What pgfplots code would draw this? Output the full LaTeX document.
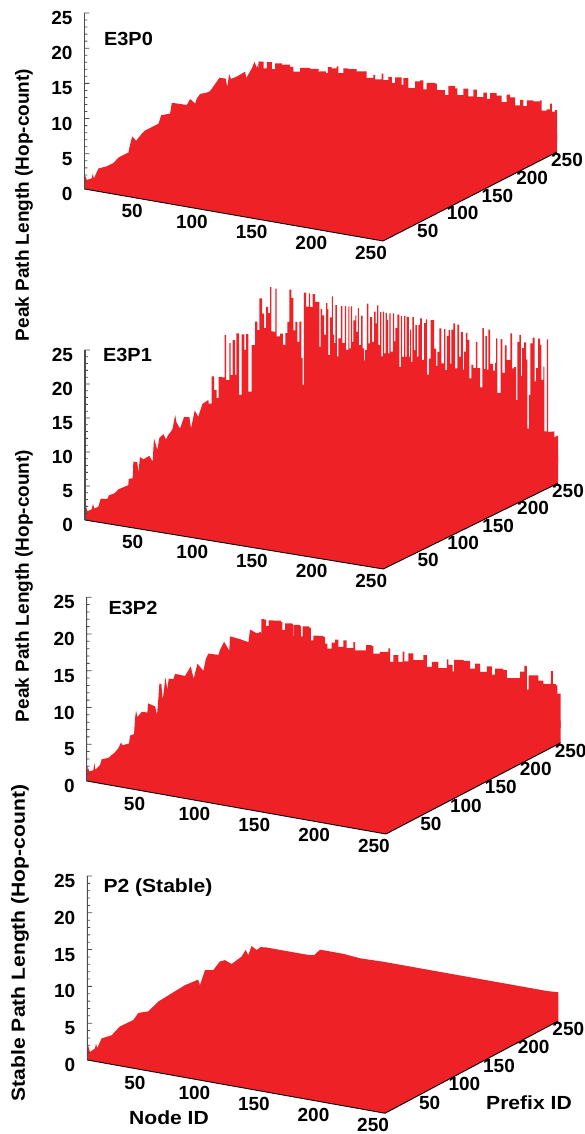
\documentclass[border=0pt]{standalone}
\usepackage{fontspec}
\setmainfont{Liberation Sans}
\usepackage{pgfplots}
\usepackage{pgfplotstable}
\pgfplotsset{compat=1.18}
\definecolor{barred}{HTML}{EE2226}
\newcommand{\lab}{\fontsize{19}{21}\selectfont\bfseries}
\pgfplotstableread[row sep=\\]{n p h\\
0 0 0\\ 0 0.5 2.0\\ 0 3.4 1.1\\ 0 10.5 1.0\\ 0 12 1.6\\ 0 13.4 0.8\\ 0 20 1.9\\ 0 32 1.6\\ 0 41.7 1.6\\ 0 48.9 2.0\\ 0 63.2 2.0\\ 0 64.7 2.7\\ 0 68.5 4.0\\ 0 74.2 3.1\\ 0 82.4 3.7\\ 0 87.2 3.9\\ 0 106.3 3.9\\ 0 110.2 4.9\\ 0 123 4.5\\ 0 125.5 5.9\\ 0 147 4.5\\ 0 151.8 5.1\\ 0 159 4.1\\ 0 161.4 4.7\\ 0 166.2 5.1\\ 0 175.8 4.8\\ 0 180.6 4.8\\ 0 194 6.0\\ 0 203 5.4\\ 0 205 4.1\\ 0 207.9 5.8\\ 0 210.3 5.0\\ 0 218.9 4.9\\ 0 230.9 5.0\\ 0 232.3 4.0\\ 0 240.5 5.0\\ 0 244.3 5.7\\ 0 247.6 4.7\\ 0 250 5.2\\
0 250 2.5\\ 250 250 2.5\\ 250 250 0\\ 250 0 0\\ 0 0 0\\
}\tblA
\pgfplotstableread[row sep=\\]{n p h\\
0 247.6 4.7\\ 0 250 5.5\\ 1.4 250 5.5\\ 4.2 250 4.6\\ 7 250 5.6\\ 11.2 250 4.7\\ 14 250 5.6\\ 19.6 250 5.6\\ 26.5 250 5.5\\ 29.3 250 4.9\\ 34.9 250 5.6\\ 43.3 250 5.7\\ 50.3 250 5.5\\ 51.5 250 5.6\\ 56.5 250 5.5\\ 58.2 250 6.4\\ 61.3 250 6.3\\ 65.5 250 6.7\\ 66.9 250 5.8\\ 71 250 6.6\\ 75.2 250 6.6\\ 82.2 250 6.5\\ 89.2 250 6.7\\ 90.6 250 5.8\\ 96.2 250 6.4\\ 97.6 250 5.8\\ 103.2 250 6.8\\ 104.6 250 5.9\\ 108.8 250 6.5\\ 111.6 250 5.7\\ 114.4 250 6.6\\ 119.9 250 5.7\\ 121.3 250 6.7\\ 125.5 250 5.4\\ 131.1 250 6.5\\ 135.3 250 6.8\\ 138.1 250 5.6\\ 140.9 250 6.6\\ 147.9 250 6.7\\ 149.3 250 5.8\\ 156.2 250 5.3\\ 159 250 6.7\\ 164.6 250 6.5\\ 166.6 250 5.6\\ 171.6 250 6.7\\ 175.8 250 5.7\\ 180 250 6.8\\ 182.8 250 5.8\\ 188.4 250 6.6\\ 191.2 250 5.8\\ 194 250 6.7\\ 199.5 250 6.5\\ 203.7 250 5.7\\ 207.9 250 6.9\\ 210.7 250 6.6\\ 214.9 250 5.6\\ 219.1 250 6.5\\ 221.9 250 5.7\\ 224.7 250 6.6\\ 230.3 250 6.6\\ 235.8 250 6.9\\ 237.2 250 5.5\\ 241.4 250 5.8\\ 244.2 250 6.7\\ 245.6 250 5.6\\ 248.4 250 5.9\\ 250 250 5.0\\
250 250 1.5\\ 0 250 1.5\\ 0 247.6 1.5\\
}\tblAr
\pgfplotstableread[row sep=\\]{n p h\\
0 0 0\\ 0 0.5 2.0\\ 0 1.4 2.0\\ 0 3.3 1.1\\ 0 9.5 1.1\\ 0 11.4 1.8\\ 0 13.4 1.0\\ 0 19.1 1.0\\ 0 22.4 2.0\\ 0 32 1.5\\ 0 34.3 1.9\\ 0 42.9 1.8\\ 0 47.7 2.1\\ 0 62 2.0\\ 0 62.5 2.9\\ 0 68.2 2.7\\ 0 69.2 5.1\\ 0 74.9 4.7\\ 0 76.3 3.1\\ 0 78.7 5.3\\ 0 83.5 4.7\\ 0 92 4.8\\ 0 96.8 3.7\\ 0 98.7 7.0\\ 0 103.5 5.1\\ 0 106.4 6.7\\ 0 112 7.0\\ 0 115.9 6.0\\ 0 119 6.5\\ 0 125 7.0\\ 0 129 8.9\\ 0 131 7.7\\ 0 136 6.6\\ 0 141.7 8.0\\ 0 149.3 7.6\\ 0 151.7 5.8\\ 0 157 8.2\\ 0 162 7.0\\ 0 168 8.6\\ 0 176.5 8.75\\
0 178 7\\ 0 250 4\\ 250 250 4\\ 250 250 0\\ 250 0 0\\ 0 0 0\\
}\tblB
\pgfplotstableread[row sep=\\]{n p h\\
0 175 8.3\\ 0 181 12.0\\ 0 184.6 9.8\\ 0 188.4 8.4\\ 0 191.3 11.4\\ 0 196 11.1\\ 0 199.9 17.1\\ 0 201.8 10.4\\ 0 206.5 15.6\\ 0 208.4 10.8\\ 0 211.3 15.8\\ 0 214.7 10.5\\ 0 216.6 16.5\\ 0 220.4 7.3\\ 0 224.2 16.0\\ 0 228 13.5\\ 0 230.4 15.7\\ 0 233.7 7.1\\ 0 238.5 13.7\\ 0 243.3 16.9\\ 0 246.6 15.5\\ 0 249.5 20.0\\
0.8 250 20.0\\ 2 250 17.8\\ 3.6 250 15.7\\ 5.3 250 18.9\\ 7 250 18.0\\ 8.7 250 21.9\\ 9.8 250 15.4\\ 11.5 250 15.4\\ 13.1 250 21.8\\ 14.2 250 14.8\\ 17 250 15.3\\ 19.3 250 13.7\\ 21.5 250 15.5\\ 23.2 250 17.2\\ 24.9 250 22.0\\ 26.5 250 20.8\\ 28.2 250 16.1\\ 29.9 250 17.4\\ 31.6 250 14.5\\ 33.2 250 17.5\\ 34.9 250 12.2\\ 36 250 8.3\\ 36.9 250 21.9\\ 38.8 250 19.9\\ 41.1 250 21.9\\
42.2 250 19.9\\ 44.4 250 21.9\\ 46.4 250 20.8\\ 49.2 250 20.9\\ 50 250 14.3\\ 51.1 250 19.9\\ 52.3 250 19.0\\ 53.9 250 16.2\\ 55.6 250 20.9\\ 56.7 250 20.0\\ 57.6 250 13.3\\ 59 250 18.9\\ 60.4 250 22.0\\ 61.2 250 16.4\\ 62.3 250 15.2\\ 63.4 250 20.8\\ 64.6 250 13.3\\ 66 250 16.0\\ 67.9 250 20.8\\ 69.3 250 15.4\\ 71.3 250 20.9\\ 72.4 250 14.5\\ 74.3 250 20.9\\ 75.2 250 14.8\\ 76.3 250 21.0\\ 77.4 250 15.8\\ 78.5 250 19.0\\ 80.2 250 19.8\\ 81 250 17.4\\ 82.2 250 20.9\\ 83 250 15.5\\ 85 250 19.9\\ 86.3 250 15.1\\ 87.5 250 13.4\\ 88.3 250 14.9\\ 89.7 250 21.8\\ 91.1 250 16.0\\ 92.5 250 19.9\\ 94.2 250 16.3\\ 95.8 250 20.8\\ 97.2 250 19.1\\ 98.4 250 21.8\\ 99.5 250 16.0\\ 100.9 250 20.9\\ 102 250 14.4\\ 103.1 250 21.0\\ 104.2 250 14.9\\ 105.6 250 20.9\\ 106.5 250 19.9\\ 107.6 250 15.0\\ 108.7 250 20.9\\ 109.8 250 15.3\\ 111.5 250 21.0\\ 112.6 250 16.9\\ 113.7 250 18.9\\ 115.4 250 20.9\\ 117.1 250 13.3\\ 118.2 250 20.8\\ 119.3 250 14.8\\ 121 250 20.9\\ 122.1 250 14.9\\ 123.2 250 20.8\\ 124.9 250 15.0\\ 126 250 19.0\\ 126.9 250 14.3\\ 128 250 20.9\\ 129.1 250 16.1\\ 130.5 250 19.8\\ 131.6 250 15.2\\ 133 250 19.9\\ 134.4 250 20.9\\ 135.8 250 14.8\\ 137.8 250 20.3\\ 139.2 250 20.9\\ 140.3 250 12.8\\ 141.7 250 15.2\\ 143.3 250 20.9\\ 145 250 21.0\\ 146.1 250 16.8\\ 147.8 250 14.3\\ 148.9 250 16.4\\ 150.6 250 19.9\\ 152.3 250 14.8\\ 154.5 250 19.9\\ 155.6 250 13.9\\ 156.8 250 19.0\\ 158.4 250 19.9\\ 159.5 250 15.0\\ 160.7 250 20.0\\ 162.3 250 21.0\\ 163.7 250 14.4\\ 165.7 250 20.9\\ 167.1 250 16.2\\ 168.5 250 19.9\\ 170.2 250 14.4\\ 171.3 250 17.1\\ 172.7 250 19.9\\ 174.1 250 18.9\\ 175.8 250 13.3\\ 177.4 250 15.3\\ 179.1 250 14.9\\ 181.1 250 18.8\\ 182.5 250 15.0\\ 184.7 250 12.2\\ 186.6 250 21.0\\ 187.8 250 15.0\\ 189.2 250 19.9\\ 190.3 250 15.0\\ 191.7 250 20.9\\ 193.1 250 15.9\\ 195.3 250 15.0\\ 197.3 250 16.2\\ 198.1 250 19.8\\ 199.2 250 11.8\\ 202 250 19.8\\ 203.4 250 14.9\\ 205.4 250 19.0\\ 207 250 16.9\\ 208.7 250 16.9\\ 210.1 250 20.9\\ 211.5 250 15.8\\ 213.2 250 16.0\\ 214.9 250 11.2\\ 216 250 19.8\\ 217.7 250 20.9\\ 218.8 250 14.9\\ 219.9 250 19.0\\ 221.6 250 19.9\\ 223.3 250 17.4\\ 224.4 250 7.3\\ 225.5 250 12.3\\ 226.9 250 19.9\\ 228.8 250 20.8\\ 230.5 250 14.4\\ 231.6 250 16.4\\ 233.3 250 20.8\\ 235 250 19.9\\ 236.1 250 14.8\\ 237.8 250 16.8\\ 238.6 250 7.3\\ 240.6 250 20.9\\ 241.7 250 7.3\\ 243.9 250 7.4\\ 246.2 250 7.5\\ 247 250 6.7\\ 248.1 250 6.9\\ 250 250 6.9\\
250 250 3\\ 0 250 3\\ 0 175 6.5\\
}\tblBr
\pgfplotstableread[row sep=\\]{n p h\\
0 0 0\\ 0 1 2.0\\ 0 3.8 1.1\\ 0 9.5 1.0\\ 0 11 1.9\\ 0 12.4 0.9\\ 0 19 1.2\\ 0 21.5 1.9\\ 0 31 1.6\\ 0 40.5 1.9\\ 0 45.3 2.2\\ 0 49 2.8\\ 0 51.5 2.3\\ 0 60.6 2.1\\ 0 62 3.1\\ 0 67.7 3.0\\ 0 69.2 5.1\\ 0 70.6 6.1\\ 0 72.5 5.1\\ 0 78.7 5.5\\ 0 86.8 5.0\\ 0 87.8 6.2\\ 0 97.8 5.3\\ 0 100.6 4.0\\ 0 102.6 6.2\\ 0 104 8.1\\ 0 106.8 7.9\\ 0 108.8 5.6\\ 0 112.6 8.5\\ 0 115.4 6.7\\ 0 117.3 8.1\\ 0 124 7.7\\ 0 126.4 8.3\\ 0 140.7 7.3\\ 0 148.8 8.2\\ 0 153 6.3\\ 0 158.4 8.1\\ 0 167 6.7\\ 0 170.3 8.1\\ 0 174 8.7\\ 0 188.4 7.8\\ 0 190.8 8.4\\ 0 196.5 9.2\\ 0 204 7.6\\ 0 205 9.5\\ 0 219.4 8.4\\ 0 231.3 7.4\\ 0 233.7 9.0\\ 0 243.3 8.0\\ 0 250 7.9\\
0 250 3\\ 250 250 3\\ 250 250 0\\ 250 0 0\\ 0 0 0\\
}\tblC
\pgfplotstableread[row sep=\\]{n p h\\
0 245 7.9\\ 0 250 9.6\\ 2.2 250 9.6\\ 3.9 250 8.8\\ 5.9 250 9.6\\ 10 250 9.7\\ 16.2 250 9.7\\ 17.5 250 8.6\\ 19.8 250 9.6\\ 25.4 250 9.7\\ 26.2 250 8.1\\ 26.7 250 9.6\\ 32.3 250 9.6\\ 32.9 250 8.2\\ 34.3 250 9.6\\ 39.8 250 9.6\\ 41.2 250 7.9\\ 43.4 250 8.6\\ 47.6 250 8.7\\ 51.7 250 8.7\\ 53.1 250 7.8\\ 55.1 250 7.2\\ 58.7 250 8.1\\ 61.5 250 8.6\\ 64.3 250 7.7\\ 68.5 250 8.7\\ 71.2 250 7.7\\ 76.8 250 8.7\\ 78.2 250 7.6\\ 85.2 250 7.8\\ 87.4 250 8.6\\ 92.1 250 8.6\\ 93.5 250 7.6\\ 99 250 8.0\\ 106 250 8.7\\ 107.5 250 6.9\\ 110.3 250 7.9\\ 114.4 250 7.1\\ 118 250 8.6\\ 119.4 250 7.3\\ 122.8 250 8.5\\ 127 250 7.7\\ 135.3 250 8.6\\ 138.1 250 7.1\\ 142.3 250 7.9\\ 147.9 250 7.2\\ 154.8 250 8.6\\ 156.2 250 7.9\\ 159.8 250 7.1\\ 161 250 8.7\\ 168.8 250 8.8\\ 174.3 250 7.9\\ 178.5 250 8.7\\ 182.7 250 7.7\\ 188.3 250 8.6\\ 192.4 250 7.6\\ 195.2 250 8.5\\ 202.2 250 8.5\\ 205 250 7.5\\ 212 250 7.7\\ 216.1 250 8.7\\ 219.7 250 9.6\\ 221.7 250 6.4\\ 223.1 250 8.4\\ 231.4 250 7.9\\ 235.6 250 7.6\\ 241.8 250 9.5\\ 243.4 250 7.8\\ 245.9 250 7.7\\ 247.3 250 6.6\\ 250 250 6.0\\
250 250 2\\ 0 250 2\\ 0 245 2\\
}\tblCr
\pgfplotstableread[row sep=\\]{n p h\\
0 0 0\\ 0 1 2.0\\ 0 3.8 0.9\\ 0 11 1.0\\ 0 12.5 1.6\\ 0 14.4 0.9\\ 0 20.7 1.9\\ 0 35 1.6\\ 0 47 2.2\\ 0 66.4 2.1\\ 0 73.6 2.7\\ 0 88 2.2\\ 0 102.5 2.8\\ 0 114.5 2.9\\ 0 126.5 3.0\\ 0 141 3.1\\ 0 160 2.9\\ 0 162.6 2.0\\ 0 169.8 3.7\\ 0 181.8 3.1\\ 0 191.4 3.8\\ 0 198.7 3.6\\ 0 208.3 2.6\\ 0 222.7 2.9\\ 0 228.5 3.5\\ 0 232.3 2.6\\ 0 237 3.6\\ 0 244.3 2.7\\ 0 250 2.8\\
5 250 2.9\\ 16.2 250 2.9\\ 24.7 250 2.9\\ 38.7 250 2.9\\ 44.9 250 3.0\\ 49.9 250 3.9\\ 54.1 250 3.9\\ 69.5 250 3.9\\ 83.5 250 3.7\\ 103 250 3.8\\ 122.7 250 3.8\\ 142.3 250 3.8\\ 161.9 250 3.8\\ 181.5 250 3.8\\ 201.1 250 3.8\\ 220.7 250 3.8\\ 240.3 250 3.8\\ 250 250 3.9\\
250 250 0\\ 250 0 0\\ 0 0 0\\
}\tblD
\pgfplotsset{panel/.style={
  clip=false,
  xmin=0,xmax=250,ymin=0,ymax=250,zmin=0,zmax=25,
  anchor=origin,
  axis line style={draw=none},
  xtick={50,100,150,200,250}, ytick={50,100,150,200,250}, ztick={0,5,10,15,20,25},
  xtick style={draw=none}, ytick style={draw=none}, ztick style={draw=none},
  grid=none,
  /pgf/number format/assume math mode=true,
  tick label style={font=\lab, inner sep=0pt, outer sep=0pt},
  xticklabel style={anchor=center, xshift=-12pt, yshift=-12pt},
  yticklabel style={anchor=center, xshift=10pt, yshift=-8pt},
  zticklabel style={anchor=east, xshift=-12pt, yshift=-5pt},
}}
\newcommand{\panelaxes}{%
  \addplot3[black, line width=0.9pt, no markers] coordinates {(0,0,0)(250,0,0)(250,250,0)};
  \addplot3[black!70, line width=1.2pt, no markers] coordinates {(0,0,0)(0,0,25)};
  \addplot3[black!70, line width=0.8pt, no markers] coordinates {
   (0,0,0)(3,1.75,0)(0,0,0)(0,0,1)(1.8,1.05,1)(0,0,1)(0,0,2)(1.8,1.05,2)(0,0,2)(0,0,3)(1.8,1.05,3)(0,0,3)(0,0,4)(1.8,1.05,4)(0,0,4)
   (0,0,5)(3,1.75,5)(0,0,5)(0,0,6)(1.8,1.05,6)(0,0,6)(0,0,7)(1.8,1.05,7)(0,0,7)(0,0,8)(1.8,1.05,8)(0,0,8)(0,0,9)(1.8,1.05,9)(0,0,9)
   (0,0,10)(3,1.75,10)(0,0,10)(0,0,11)(1.8,1.05,11)(0,0,11)(0,0,12)(1.8,1.05,12)(0,0,12)(0,0,13)(1.8,1.05,13)(0,0,13)(0,0,14)(1.8,1.05,14)(0,0,14)
   (0,0,15)(3,1.75,15)(0,0,15)(0,0,16)(1.8,1.05,16)(0,0,16)(0,0,17)(1.8,1.05,17)(0,0,17)(0,0,18)(1.8,1.05,18)(0,0,18)(0,0,19)(1.8,1.05,19)(0,0,19)
   (0,0,20)(3,1.75,20)(0,0,20)(0,0,21)(1.8,1.05,21)(0,0,21)(0,0,22)(1.8,1.05,22)(0,0,22)(0,0,23)(1.8,1.05,23)(0,0,23)(0,0,24)(1.8,1.05,24)(0,0,24)
   (0,0,25)(3,1.75,25)};
}
\newcommand{\body}[1]{\addplot3[fill=barred, draw=none, no markers] table[x=n,y=p,z=h]{#1};}
\newcommand{\spikes}[1]{\addplot3[fill=barred, draw=none, no markers, const plot] table[x=n,y=p,z=h]{#1};}
\begin{document}
\begin{tikzpicture}
\useasboundingbox (0,0) rectangle (585pt,1134pt);
\begin{axis}[panel, at={(84.5pt,945pt)}, x={(1.194pt,-0.208pt)}, y={(0.696pt,0.356pt)}, z={(0pt,7.04pt)}]
\body{\tblA}
\spikes{\tblAr}
\panelaxes
\end{axis}
\begin{axis}[panel, at={(85pt,614pt)}, x={(1.193pt,-0.196pt)}, y={(0.699pt,0.343pt)}, z={(0pt,6.8pt)}]
\body{\tblB}
\spikes{\tblBr}
\panelaxes
\end{axis}
\begin{axis}[panel, at={(86.7pt,353pt)}, x={(1.197pt,-0.212pt)}, y={(0.699pt,0.365pt)}, z={(0pt,7.35pt)}]
\body{\tblC}
\spikes{\tblCr}
\panelaxes
\end{axis}
\begin{axis}[panel, at={(87.3pt,74pt)}, x={(1.191pt,-0.213pt)}, y={(0.693pt,0.369pt)}, z={(0pt,7.36pt)}]
\body{\tblD}
\panelaxes
\end{axis}
\node[font=\lab] at (128.5pt,1095pt) {\scalebox{1.05}[1]{E3P0}};
\node[font=\lab] at (127.5pt,779pt) {\scalebox{1.05}[1]{E3P1}};
\node[font=\lab] at (133pt,526pt) {\scalebox{1.05}[1]{E3P2}};
\node[font=\lab] at (158pt,246pt) {\scalebox{1.11}[1]{P2 (Stable)}};
\node[font=\lab] at (169pt,16pt) {\scalebox{1.11}[1]{Node ID}};
\node[font=\lab] at (529pt,31pt) {\scalebox{1.11}[1]{Prefix ID}};
\node[font=\lab, rotate=90] at (24pt,929pt) {Peak Path Length (Hop-count)};
\node[font=\lab, rotate=90] at (24pt,548pt) {Peak Path Length (Hop-count)};
\node[font=\lab, rotate=90] at (20pt,191pt) {\scalebox{1.11}[1]{Stable Path Length (Hop-count)}};
\end{tikzpicture}
\end{document}
